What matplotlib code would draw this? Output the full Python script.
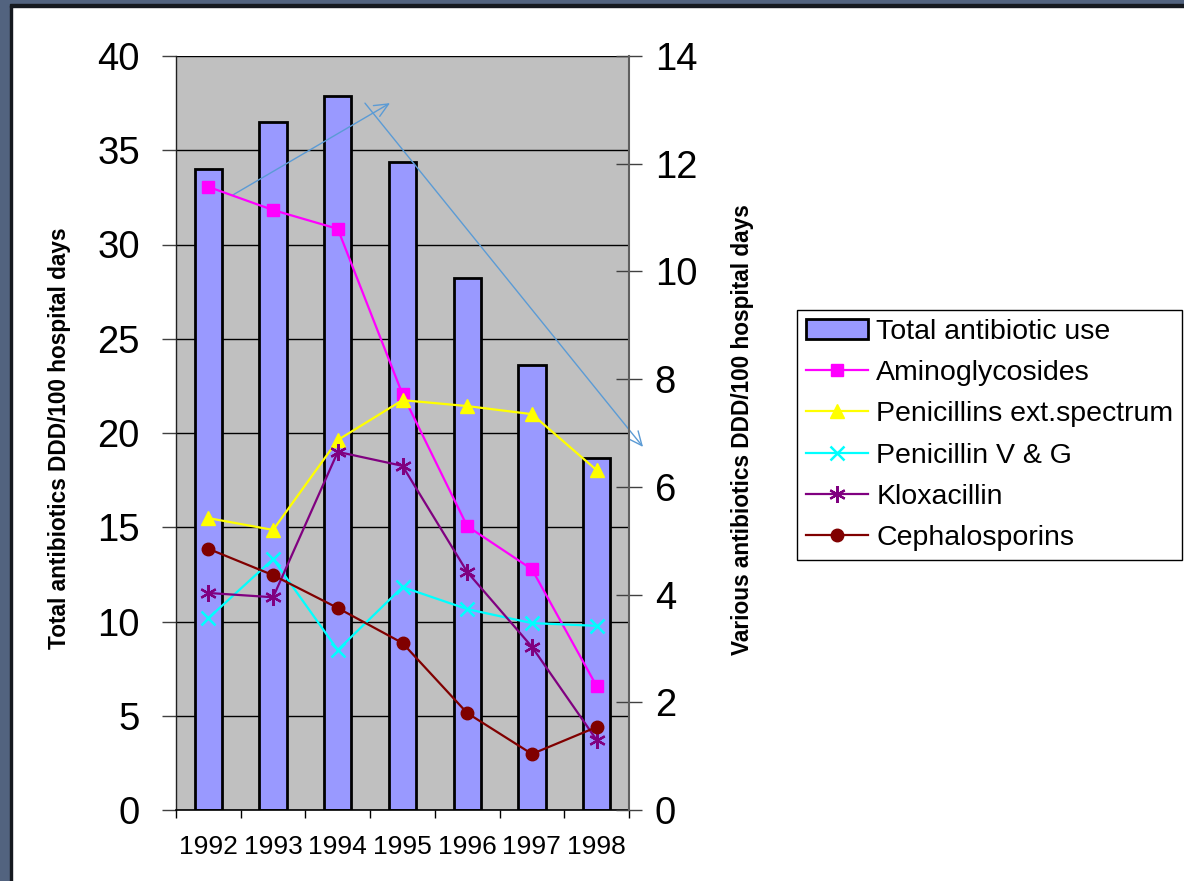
import matplotlib
matplotlib.use("Agg")
import matplotlib.pyplot as plt
from matplotlib.patches import Rectangle
import numpy as np

plt.rcParams['font.family'] = ['Liberation Sans', 'DejaVu Sans']

years = ['1992', '1993', '1994', '1995', '1996', '1997', '1998']
total_use = [34.0, 36.5, 37.9, 34.4, 28.2, 23.6, 18.7]
aminoglycosides = [11.57, 11.14, 10.79, 7.72, 5.27, 4.47, 2.30]
penicillins_ext = [5.42, 5.20, 6.87, 7.61, 7.50, 7.35, 6.31]
penicillin_vg = [3.56, 4.66, 2.97, 4.14, 3.73, 3.47, 3.42]
kloxacillin = [4.03, 3.95, 6.65, 6.39, 4.42, 3.03, 1.30]
cephalosporins = [4.85, 4.36, 3.75, 3.10, 1.80, 1.04, 1.54]

left_ticks = [0, 5, 10, 15, 20, 25, 30, 35, 40]
right_ticks = [0, 2, 4, 6, 8, 10, 12, 14]

# annotation arrows (category-index x, left-axis y)
arrow_up = ((0.365, 32.6), (2.807, 37.5))
arrow_down = ((2.42, 37.5), (6.717, 19.26))

W, H = 1184, 881
fig = plt.figure(figsize=(W / 100, H / 100), dpi=100)
fig.patch.set_facecolor('white')

# slide border (left and top)
border = '#52637F'
fig.patches.append(Rectangle((0, 0), 10 / W, 1, transform=fig.transFigure, color=border, zorder=0))
fig.patches.append(Rectangle((10 / W, 0), 2 / W, 1 - 5 / H, transform=fig.transFigure, color='#15191f', zorder=0))
fig.patches.append(Rectangle((0, 1 - 4.5 / H), 1, 4.5 / H, transform=fig.transFigure, color=border, zorder=0))
fig.patches.append(Rectangle((10 / W, 1 - 6.5 / H), 1, 2 / H, transform=fig.transFigure, color='#15191f', zorder=0))

ax = fig.add_axes([176 / W, (H - 810) / H, 453 / W, 754 / H])
ax.set_facecolor('#C0C0C0')
x = np.arange(len(years))
ax.bar(x, total_use, width=0.42, color='#9999FF', edgecolor='black', linewidth=2,
       label='Total antibiotic use', zorder=2)
ax.set_xlim(-0.5, len(years) - 0.5)
ax.set_ylim(0, 40)
ax.set_yticks(left_ticks)
ax.yaxis.grid(True, color='black', linewidth=1)
ax.set_axisbelow(True)
ax.tick_params(axis='y', direction='out', length=10, width=1, color='#404040',
               labelsize=27.5, pad=16)
ax.set_xticks(np.arange(-0.5, len(years), 1.0))
ax.set_xticklabels([])
ax.set_xticks(x, minor=True)
ax.set_xticklabels(years, minor=True)
ax.tick_params(axis='x', which='major', direction='out', length=6, width=1, color='black')
ax.tick_params(axis='x', which='minor', length=0, labelsize=19, pad=18)
for s in ['top', 'right']:
    ax.spines[s].set_visible(False)
ax.spines['left'].set_color('#202020')
ax.spines['left'].set_linewidth(1)
ax.spines['bottom'].set_color('black')
ax.spines['bottom'].set_linewidth(1.2)

ax2 = ax.twinx()
ax2.set_ylim(0, 14)
ax2.set_yticks(right_ticks)
ax2.tick_params(axis='y', direction='inout', length=19, width=1, color='#404040',
                labelsize=27.5, pad=9)
for s in ['top', 'left', 'bottom']:
    ax2.spines[s].set_visible(False)
ax2.spines['right'].set_color('#606060')
ax2.spines['right'].set_linewidth(1.5)

lw = 1.6
ax2.plot(x, aminoglycosides, color='#FF00FF', lw=lw, marker='s', ms=9, label='Aminoglycosides', zorder=3)
ax2.plot(x, penicillins_ext, color='#FFFF00', lw=lw, marker='^', ms=10, label='Penicillins ext.spectrum', zorder=3)
ax2.plot(x, penicillin_vg, color='#00FFFF', lw=lw, marker='x', ms=10, mew=1.8, label='Penicillin V & G', zorder=3)
ax2.plot(x, kloxacillin, color='#800080', lw=lw, marker=(6, 2, 0), ms=12, mew=1.6, label='Kloxacillin', zorder=3)
ax2.plot(x, cephalosporins, color='#800000', lw=lw, marker='o', ms=9, label='Cephalosporins', zorder=3)

arrow_color = '#5B9BD5'
for (start, end) in (arrow_up, arrow_down):
    ax.annotate('', xy=end, xytext=start, xycoords='data', textcoords='data',
                annotation_clip=False, zorder=5,
                arrowprops=dict(arrowstyle='->,head_length=1.0,head_width=0.45',
                                color=arrow_color, lw=1.0, shrinkA=0, shrinkB=0))

fig.text(60 / W, 1 - 438 / H, 'Total antibiotics DDD/100 hospital days', rotation=90,
         ha='center', va='center', fontsize=16.3, fontweight='bold')
fig.text(742 / W, 1 - 430 / H, 'Various antibiotics DDD/100 hospital days', rotation=90,
         ha='center', va='center', fontsize=16.3, fontweight='bold')

h1, l1 = ax.get_legend_handles_labels()
h2, l2 = ax2.get_legend_handles_labels()
leg = fig.legend(h1 + h2, l1 + l2, loc='upper left', bbox_to_anchor=(797 / W, 1 - 310 / H),
                 bbox_transform=fig.transFigure, fontsize=20.5, frameon=True, fancybox=False,
                 edgecolor='black', framealpha=1, handlelength=2.2, handletextpad=0.28,
                 labelspacing=0.54, borderpad=0.3, borderaxespad=0)
leg.get_frame().set_linewidth(1)

fig.savefig('out.png', dpi=100)
